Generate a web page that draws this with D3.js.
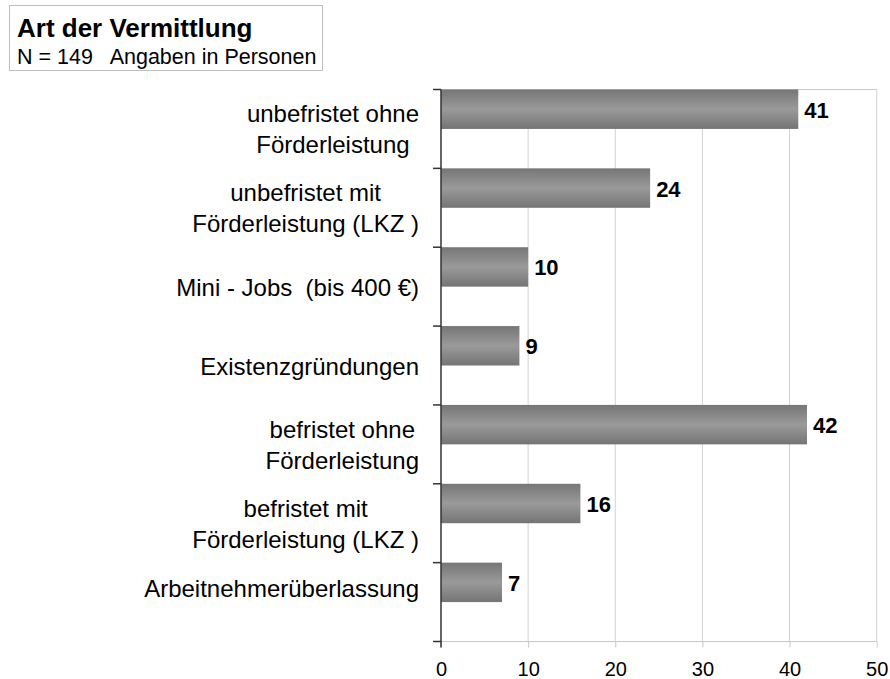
<!DOCTYPE html>
<html>
<head>
<meta charset="utf-8">
<script src="https://cdn.jsdelivr.net/npm/d3@7"></script>
<style>
  html, body { margin: 0; padding: 0; background: #fff; }
  svg { display: block; font-family: "Liberation Sans", Arial, Helvetica, sans-serif; }
  text { white-space: pre; }
</style>
</head>
<body>
<svg id="chart" width="890" height="679"></svg>
<script>
// ---- data ----
const categories = [
  ["unbefristet ohne", "Förderleistung"],
  ["unbefristet mit", "Förderleistung (LKZ )"],
  ["Mini - Jobs  (bis 400 €)"],
  ["Existenzgründungen"],
  ["befristet ohne", "Förderleistung"],
  ["befristet mit", "Förderleistung (LKZ )"],
  ["Arbeitnehmerüberlassung"]
];
const values = [41, 24, 10, 9, 42, 16, 7];
const xTicks = [0, 10, 20, 30, 40, 50];
const titleText = "Art der Vermittlung";
const subtitleText = "N = 149   Angaben in Personen";

// ---- layout ----
const plot = { left: 441, right: 876.7, top: 89.5, bottom: 641.5 };

const svg = d3.select("#chart");

const defs = svg.append("defs");
const grad = defs.append("linearGradient")
  .attr("id", "barGrad").attr("x1", 0).attr("x2", 0).attr("y1", 0).attr("y2", 1);
grad.append("stop").attr("offset", "0%").attr("stop-color", "#767676");
grad.append("stop").attr("offset", "50%").attr("stop-color", "#9a9a9a");
grad.append("stop").attr("offset", "100%").attr("stop-color", "#747474");

const x = d3.scaleLinear().domain([0, 50]).range([plot.left, plot.right]);
const y = d3.scaleBand().domain(d3.range(categories.length))
  .range([plot.top, plot.bottom]).paddingInner(0).paddingOuter(0);

// gridlines
svg.append("g").selectAll("line").data(xTicks.filter(d => d > 0)).join("line")
  .attr("x1", d => x(d)).attr("x2", d => x(d))
  .attr("y1", plot.top).attr("y2", plot.bottom)
  .attr("stroke", "#d2d2d2").attr("stroke-width", 1);

// plot border (top, bottom)
svg.append("line").attr("x1", plot.left).attr("x2", plot.right)
  .attr("y1", plot.top).attr("y2", plot.top).attr("stroke", "#c8c8c8");
svg.append("line").attr("x1", plot.left).attr("x2", plot.right)
  .attr("y1", plot.bottom).attr("y2", plot.bottom).attr("stroke", "#c8c8c8");

// bottom axis ticks & labels
const xAxis = d3.axisBottom(x).tickValues(xTicks).tickSize(6).tickPadding(14).tickFormat(d3.format("d"));
const gx = svg.append("g").attr("transform", `translate(0,${plot.bottom})`).call(xAxis);
gx.select(".domain").remove();
gx.selectAll(".tick line").attr("stroke", "#c8c8c8");
gx.selectAll(".tick text").attr("font-size", 20).attr("fill", "#000")
  .attr("font-family", "Liberation Sans, Arial, sans-serif");

// bars
svg.append("g").selectAll("rect").data(values).join("rect")
  .attr("x", x(0))
  .attr("y", (d, i) => y(i))
  .attr("width", d => x(d) - x(0))
  .attr("height", y.bandwidth() / 2)
  .attr("fill", "url(#barGrad)");

// value labels
svg.append("g").selectAll("text").data(values).join("text")
  .attr("x", d => x(d) + 6)
  .attr("y", (d, i) => y(i) + y.bandwidth() / 4 + 1)
  .attr("dominant-baseline", "central")
  .attr("font-size", 22).attr("font-weight", "bold").attr("fill", "#000")
  .text(d => d);

// y axis line and ticks
const bounds = d3.range(categories.length + 1).map(i => plot.top + i * y.step());
svg.append("line").attr("x1", plot.left).attr("x2", plot.left)
  .attr("y1", plot.top).attr("y2", plot.bottom + 6)
  .attr("stroke", "#333").attr("stroke-width", 1.5);
svg.append("g").selectAll("line").data(bounds).join("line")
  .attr("x1", plot.left - 8).attr("x2", plot.left)
  .attr("y1", d => d).attr("y2", d => d)
  .attr("stroke", "#333").attr("stroke-width", 1.5);

// category labels (centered lines, block right-aligned)
const labelRight = 419;
const lineH = 31;
const catG = svg.append("g");
categories.forEach((lines, i) => {
  const cy = y(i) + y.bandwidth() / 2 + (i === categories.length - 1 ? -14 : 0);
  const t = catG.append("text")
    .attr("font-size", 24).attr("fill", "#000")
    .attr("text-anchor", "middle")
    .attr("dominant-baseline", "central");
  const spans = lines.map((s, k) => t.append("tspan")
    .attr("y", cy + (k - (lines.length - 1) / 2) * lineH)
    .text(s));
  const maxW = d3.max(spans, s => s.node().getComputedTextLength());
  spans.forEach(s => s.attr("x", labelRight - maxW / 2));
});

// title box
svg.append("rect").attr("x", 9.5).attr("y", 5.5).attr("width", 313).attr("height", 65)
  .attr("fill", "#fff").attr("stroke", "#bdbdbd");
svg.append("text").attr("x", 17).attr("y", 37)
  .attr("font-size", 26).attr("font-weight", "bold").attr("fill", "#000")
  .text(titleText);
svg.append("text").attr("x", 17).attr("y", 64)
  .attr("font-size", 21.5).attr("fill", "#000")
  .text(subtitleText);
</script>
</body>
</html>
